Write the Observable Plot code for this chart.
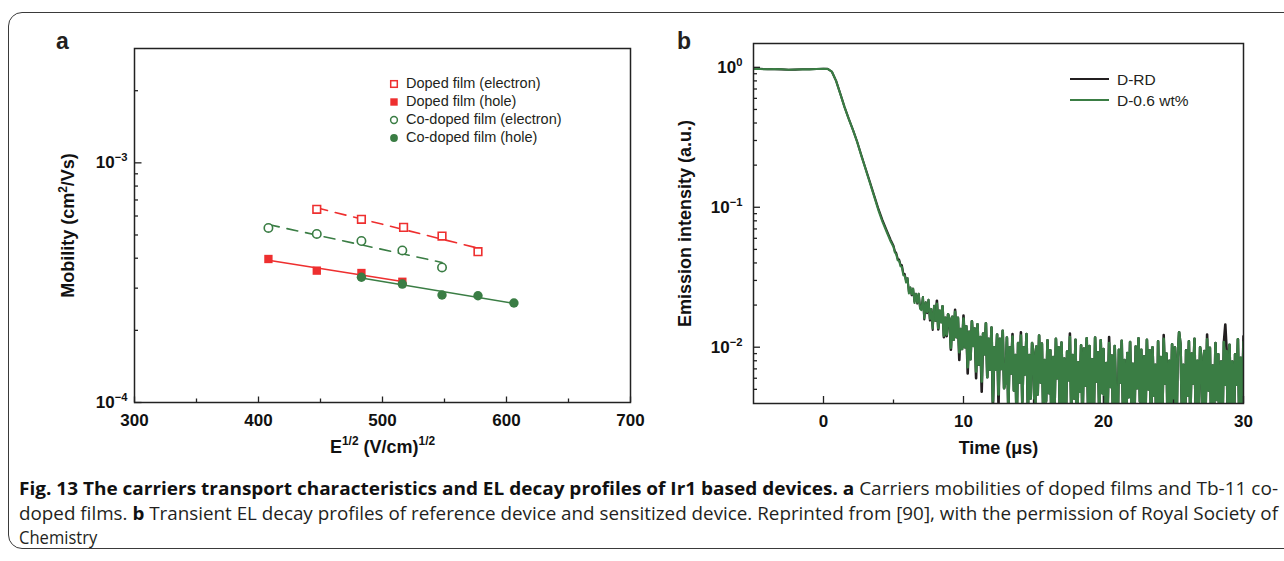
<!DOCTYPE html>
<html><head><meta charset="utf-8">
<script src="https://cdn.jsdelivr.net/npm/d3@7"></script>
<script src="https://cdn.jsdelivr.net/npm/@observablehq/plot@0.6"></script>
<style>
html,body{margin:0;padding:0;background:#fff;}
#root{position:relative;width:1284px;height:561px;overflow:hidden;font-family:"Liberation Sans",Arial,sans-serif;color:#231f20;}
.border{position:absolute;left:8px;top:12px;width:1320px;height:537px;border:1.3px solid #3a3a3a;border-radius:14px;box-sizing:border-box;}
.panel{position:absolute;top:0;}
.letter{position:absolute;font-weight:bold;font-size:23px;line-height:1;}
.legtext{position:absolute;line-height:1;white-space:nowrap;color:#231f20;}
.legmark{position:absolute;overflow:visible;}
.cap{position:absolute;left:19px;white-space:nowrap;font-family:"Open Sans",sans-serif;font-size:17.5px;line-height:1;transform-origin:0 50%;color:#231f20;}
.cap b{font-weight:700;color:#111;}
svg [aria-label="x-axis tick label"], svg [aria-label="y-axis tick label"]{font-size:17px;font-weight:bold;fill:#111;}
svg [aria-label="x-axis label"], svg [aria-label="y-axis label"]{font-size:18px;font-weight:bold;fill:#111;}
</style></head>
<body><div id="root"><div class="border"></div></div>
<script>
// ---------- Panel a data: carrier mobility vs E^1/2 ----------
const fieldDopedElectron = [447, 483, 517, 548, 577];
const mobilityDopedElectron = [6.40e-4, 5.81e-4, 5.38e-4, 4.95e-4, 4.26e-4];
const fieldDopedHole = [408, 447, 483, 516];
const mobilityDopedHole = [3.97e-4, 3.55e-4, 3.47e-4, 3.19e-4];
const fieldCoDopedElectron = [408, 447, 483, 516, 548];
const mobilityCoDopedElectron = [5.35e-4, 5.05e-4, 4.72e-4, 4.31e-4, 3.66e-4];
const fieldCoDopedHole = [483, 516, 548, 577, 606];
const mobilityCoDopedHole = [3.33e-4, 3.12e-4, 2.81e-4, 2.79e-4, 2.60e-4];
const legendA = ["Doped film (electron)", "Doped film (hole)", "Co-doped film (electron)", "Co-doped film (hole)"];
const xTicksA = [300, 400, 500, 600, 700];
const xMinorA = [350, 450, 550, 650];
const yTicksA = [1e-4, 1e-3];
const yTickLabelsA = ["10^{−4}", "10^{−3}"];
const yMinorA = [2e-4, 3e-4, 4e-4, 5e-4, 6e-4, 7e-4, 8e-4, 9e-4, 2e-3];

// ---------- Panel b data: transient EL decay ----------
const timeUs = [
-5,-4.5,-4,-3.5,-3,-2.5,-2,-1.5,-1,-0.5,0,0.3,
0.6,0.9,1.2,1.5,1.8,2.1,2.4,2.7,3.0,3.3,3.6,3.9,4.2,4.5,4.8,
5,5.1,5.2,5.3,5.4,5.5,5.6,5.7,5.8,5.9,
6,6.1,6.2,6.3,6.4,6.5,6.6,6.7,6.8,6.9,
7,7.1,7.2,7.3,7.4,7.5,7.6,7.7,7.8,7.9,
8,8.1,8.2,8.3,8.4,8.5,8.6,8.7,8.8,8.9,
9,9.1,9.2,9.3,9.4,9.5,9.6,9.7,9.8,9.9,
10,10.1,10.2,10.3,10.4,10.5,10.6,10.7,10.8,10.9,
11,11.1,11.2,11.3,11.4,11.5,11.6,11.7,11.8,11.9,
12,12.1,12.2,12.3,12.4,12.5,12.6,12.7,12.8,12.9,
13,13.1,13.2,13.3,13.4,13.5,13.6,13.7,13.8,13.9,
14,14.1,14.2,14.3,14.4,14.5,14.6,14.7,14.8,14.9,
15,15.1,15.2,15.3,15.4,15.5,15.6,15.7,15.8,15.9,
16,16.1,16.2,16.3,16.4,16.5,16.6,16.7,16.8,16.9,
17,17.1,17.2,17.3,17.4,17.5,17.6,17.7,17.8,17.9,
18,18.1,18.2,18.3,18.4,18.5,18.6,18.7,18.8,18.9,
19,19.1,19.2,19.3,19.4,19.5,19.6,19.7,19.8,19.9,
20,20.1,20.2,20.3,20.4,20.5,20.6,20.7,20.8,20.9,
21,21.1,21.2,21.3,21.4,21.5,21.6,21.7,21.8,21.9,
22,22.1,22.2,22.3,22.4,22.5,22.6,22.7,22.8,22.9,
23,23.1,23.2,23.3,23.4,23.5,23.6,23.7,23.8,23.9,
24,24.1,24.2,24.3,24.4,24.5,24.6,24.7,24.8,24.9,
25,25.1,25.2,25.3,25.4,25.5,25.6,25.7,25.8,25.9,
26,26.1,26.2,26.3,26.4,26.5,26.6,26.7,26.8,26.9,
27,27.1,27.2,27.3,27.4,27.5,27.6,27.7,27.8,27.9,
28,28.1,28.2,28.3,28.4,28.5,28.6,28.7,28.8,28.9,
29,29.1,29.2,29.3,29.4,29.5,29.6,29.7,29.8,29.9,30];

const intensityDRD = [
0.973,0.975,0.970,0.971,0.967,0.960,0.963,0.968,0.970,0.972,0.976,0.976,
0.93,0.80,0.648,0.522,0.430,0.359,0.295,0.236,0.190,0.153,0.123,0.0990,0.0815,0.0690,0.0585,
0.0531,0.0485,0.0470,0.0428,0.0424,0.0389,0.0385,0.0337,0.0334,0.0300,
0.0311,0.0250,0.0267,0.0235,0.0262,0.0212,0.0241,0.0205,0.0241,0.0192,
0.0190,0.0228,0.0158,0.0209,0.0175,0.0218,0.0155,0.0187,0.0133,0.0198,
0.0155,0.0215,0.0134,0.0182,0.0151,0.0196,0.0118,0.0162,0.0120,0.0172,
0.0159,0.0096,0.0165,0.0113,0.0185,0.0118,0.0162,0.0081,0.0135,0.0097,
0.0168,0.0100,0.0141,0.0065,0.0129,0.0082,0.0153,0.0102,0.0136,0.0060,
0.0146,0.0075,0.0118,0.0048,0.0125,0.0089,0.0148,0.0061,0.0115,0.0069,
0.0138,0.0035,0.0100,0.0069,0.0123,0.0038,0.0115,0.0070,0.0131,0.0051,
0.0057,0.0117,0.0036,0.0100,0.0065,0.0124,0.0049,0.0088,0.0028,0.0107,
0.0056,0.0128,0.0040,0.0100,0.0064,0.0124,0.0034,0.0088,0.0043,0.0107,
0.0091,0.0026,0.0101,0.0046,0.0121,0.0056,0.0106,0.0031,0.0081,0.0041,
0.0112,0.0047,0.0095,0.0020,0.0085,0.0035,0.0115,0.0060,0.0100,0.0025,
0.0108,0.0038,0.0083,0.0023,0.0093,0.0058,0.0125,0.0033,0.0088,0.0043,
0.0113,0.0018,0.0078,0.0048,0.0103,0.0028,0.0098,0.0053,0.0116,0.0036,
0.0102,0.0037,0.0082,0.0027,0.0117,0.0057,0.0092,0.0032,0.0112,0.0047,
0.0097,0.0017,0.0077,0.0037,0.0118,0.0052,0.0087,0.0022,0.0102,0.0042,
0.0021,0.0096,0.0056,0.0111,0.0031,0.0081,0.0016,0.0091,0.0044,0.0109,
0.0036,0.0076,0.0026,0.0101,0.0051,0.0116,0.0041,0.0096,0.0021,0.0086,
0.0033,0.0113,0.0050,0.0095,0.0025,0.0100,0.0045,0.0075,0.0015,0.0110,
0.0040,0.0085,0.0030,0.0122,0.0055,0.0090,0.0020,0.0080,0.0035,0.0105,
0.0040,0.0100,0.0020,0.0085,0.0128,0.0105,0.0035,0.0075,0.0015,0.0095,
0.0045,0.0110,0.0030,0.0090,0.0055,0.0115,0.0025,0.0080,0.0035,0.0100,
0.0084,0.0019,0.0094,0.0039,0.0123,0.0049,0.0099,0.0024,0.0074,0.0034,
0.0107,0.0042,0.0089,0.0014,0.0079,0.0029,0.0109,0.0145,0.0094,0.0019,
0.0104,0.0034,0.0079,0.0019,0.0089,0.0054,0.0114,0.0029,0.0084,0.0039,0.0120];

const intensityD06 = [
0.975,0.972,0.968,0.974,0.970,0.962,0.966,0.970,0.967,0.973,0.978,0.974,
0.93,0.80,0.645,0.519,0.428,0.357,0.293,0.234,0.188,0.151,0.121,0.0967,0.0794,0.0671,0.0569,
0.0521,0.0475,0.0460,0.0418,0.0414,0.0379,0.0375,0.0327,0.0324,0.0290,
0.0311,0.0242,0.0267,0.0239,0.0262,0.0207,0.0241,0.0208,0.0241,0.0188,
0.0184,0.0228,0.0161,0.0209,0.0178,0.0218,0.0159,0.0187,0.0136,0.0198,
0.0155,0.0204,0.0137,0.0182,0.0151,0.0196,0.0121,0.0162,0.0123,0.0172,
0.0159,0.0099,0.0165,0.0113,0.0179,0.0118,0.0162,0.0092,0.0135,0.0097,
0.0160,0.0100,0.0141,0.0072,0.0129,0.0082,0.0153,0.0102,0.0136,0.0067,
0.0146,0.0075,0.0118,0.0057,0.0125,0.0089,0.0148,0.0061,0.0115,0.0069,
0.0138,0.0041,0.0100,0.0069,0.0123,0.0046,0.0115,0.0070,0.0131,0.0051,
0.0057,0.0117,0.0036,0.0100,0.0065,0.0119,0.0049,0.0088,0.0028,0.0107,
0.0056,0.0121,0.0040,0.0100,0.0064,0.0124,0.0034,0.0088,0.0043,0.0107,
0.0091,0.0026,0.0101,0.0046,0.0121,0.0056,0.0106,0.0031,0.0081,0.0041,
0.0112,0.0047,0.0095,0.0020,0.0085,0.0035,0.0115,0.0060,0.0100,0.0025,
0.0108,0.0038,0.0083,0.0023,0.0093,0.0058,0.0118,0.0033,0.0088,0.0043,
0.0113,0.0018,0.0078,0.0048,0.0103,0.0028,0.0098,0.0053,0.0116,0.0036,
0.0102,0.0037,0.0082,0.0027,0.0117,0.0057,0.0092,0.0032,0.0112,0.0047,
0.0097,0.0017,0.0077,0.0037,0.0107,0.0052,0.0087,0.0022,0.0102,0.0042,
0.0021,0.0096,0.0056,0.0111,0.0031,0.0081,0.0016,0.0091,0.0044,0.0109,
0.0036,0.0076,0.0026,0.0101,0.0051,0.0116,0.0041,0.0096,0.0021,0.0086,
0.0033,0.0113,0.0050,0.0095,0.0025,0.0100,0.0045,0.0075,0.0015,0.0110,
0.0040,0.0085,0.0030,0.0115,0.0055,0.0090,0.0020,0.0080,0.0035,0.0105,
0.0040,0.0100,0.0020,0.0085,0.0128,0.0105,0.0035,0.0075,0.0015,0.0095,
0.0045,0.0110,0.0030,0.0090,0.0055,0.0115,0.0025,0.0080,0.0035,0.0100,
0.0084,0.0019,0.0094,0.0039,0.0114,0.0049,0.0099,0.0024,0.0074,0.0034,
0.0107,0.0042,0.0089,0.0014,0.0079,0.0029,0.0109,0.0054,0.0094,0.0019,
0.0104,0.0034,0.0079,0.0019,0.0089,0.0054,0.0114,0.0029,0.0084,0.0039,0.0109];

const legendB = ["D-RD", "D-0.6 wt%"];
const xTicksB = [0, 10, 20, 30];
const xMinorB = [5, 15, 25];
const yTicksB = [1, 0.1, 0.01];
const yTickLabelsB = ["10^{0}", "10^{−1}", "10^{−2}"];
const yMinorB = [0.005, 0.006, 0.007, 0.008, 0.009, 0.02, 0.03, 0.04, 0.05, 0.06, 0.07, 0.08, 0.09,
                 0.2, 0.3, 0.4, 0.5, 0.6, 0.7, 0.8, 0.9];

// ---------- styling ----------
const RED = "#ee2f2f", GREEN = "#3a7d44", BLACK = "#231f20", AXIS = "#222";
const ns = "http://www.w3.org/2000/svg";

const pts = (xs, ys) => xs.map((x, i) => ({x, y: ys[i]}));
function fitLog(xs, ys) {
  const ly = ys.map(Math.log10);
  const mx = d3.mean(xs), my = d3.mean(ly);
  const b = d3.sum(xs, (x, i) => (x - mx) * (ly[i] - my)) / d3.sum(xs, x => (x - mx) ** 2);
  return d3.extent(xs).map(x => ({x, y: 10 ** (my + b * (x - mx))}));
}
const tickX = (ticks, size) => Plot.axisX({ticks, tickSize: size, dy: -size, tickFormat: () => "", label: null, stroke: AXIS, strokeWidth: 1.3});
const tickY = (ticks, size) => Plot.axisY({ticks, tickSize: size, dx: size, tickFormat: () => "", label: null, stroke: AXIS, strokeWidth: 1.3});

const dE = pts(fieldDopedElectron, mobilityDopedElectron);
const dH = pts(fieldDopedHole, mobilityDopedHole);
const cE = pts(fieldCoDopedElectron, mobilityCoDopedElectron);
const cH = pts(fieldCoDopedHole, mobilityCoDopedHole);

const plotA = Plot.plot({
  width: 660, height: 460,
  marginLeft: 134, marginRight: 30, marginTop: 48, marginBottom: 58,
  style: {fontFamily: "Liberation Sans, Arial, sans-serif", fontSize: "17px", background: "transparent", overflow: "visible"},
  x: {domain: [300, 700]},
  y: {type: "log", domain: [1e-4, 3e-3]},
  marks: [
    Plot.line(fitLog(fieldDopedElectron, mobilityDopedElectron), {x: "x", y: "y", stroke: RED, strokeWidth: 1.6, strokeDasharray: "11,8"}),
    Plot.line(fitLog(fieldCoDopedElectron, mobilityCoDopedElectron), {x: "x", y: "y", stroke: GREEN, strokeWidth: 1.6, strokeDasharray: "11,8"}),
    Plot.line(fitLog(fieldDopedHole, mobilityDopedHole), {x: "x", y: "y", stroke: RED, strokeWidth: 1.6}),
    Plot.line(fitLog(fieldCoDopedHole, mobilityCoDopedHole), {x: "x", y: "y", stroke: GREEN, strokeWidth: 1.6}),
    Plot.dot(dE, {x: "x", y: "y", symbol: "square", r: 4.3, fill: "white", stroke: RED, strokeWidth: 1.6}),
    Plot.dot(cE, {x: "x", y: "y", symbol: "circle", r: 4.2, fill: "white", stroke: GREEN, strokeWidth: 1.6}),
    Plot.dot(dH, {x: "x", y: "y", symbol: "square", r: 4.7, fill: RED, stroke: null}),
    Plot.dot(cH, {x: "x", y: "y", symbol: "circle", r: 4.7, fill: GREEN, stroke: null}),
    Plot.frame({stroke: AXIS, strokeWidth: 1.5}),
    tickX(xTicksA, 5.5), tickX(xMinorA, 3.5),
    tickY(yTicksA, 7.5), tickY(yMinorA, 4),
    Plot.axisX({ticks: xTicksA, tickSize: 0, tickPadding: 11, tickFormat: d => String(d),
      label: "E^{1/2} (V/cm)^{1/2}", labelAnchor: "center", labelOffset: 50, labelArrow: "none"}),
    Plot.axisY({ticks: yTicksA, tickSize: 0, tickPadding: 7, tickFormat: d => yTickLabelsA[yTicksA.indexOf(d)],
      label: "Mobility (cm^{2}/Vs)", labelAnchor: "center", labelOffset: 73, labelArrow: "none"})
  ]
});

const drd = timeUs.map((t, i) => ({t, v: intensityDRD[i]}));
const d06 = timeUs.map((t, i) => ({t, v: intensityD06[i]}));
// the noisy tail is drawn with a heavier pen, as in the dense original trace
const early = d => d.t <= 8, late = d => d.t >= 8;

const plotB = Plot.plot({
  width: 624, height: 460,
  marginLeft: 93, marginRight: 41, marginTop: 43, marginBottom: 57,
  style: {fontFamily: "Liberation Sans, Arial, sans-serif", fontSize: "17px", background: "transparent", overflow: "visible"},
  x: {domain: [-5, 30]},
  y: {type: "log", domain: [0.00396, 1.48]},
  marks: [
    Plot.line(drd.filter(early), {x: "t", y: "v", stroke: BLACK, strokeWidth: 2.1, clip: true}),
    Plot.line(drd.filter(late), {x: "t", y: "v", stroke: BLACK, strokeWidth: 2.6, clip: true}),
    Plot.line(d06.filter(early), {x: "t", y: "v", stroke: GREEN, strokeWidth: 2.1, clip: true}),
    Plot.line(d06.filter(late), {x: "t", y: "v", stroke: GREEN, strokeWidth: 2.6, clip: true}),
    Plot.frame({stroke: AXIS, strokeWidth: 1.5}),
    tickX(xTicksB, 7), tickX(xMinorB, 3.5),
    tickY(yTicksB, 7), tickY(yMinorB, 4),
    Plot.axisX({ticks: xTicksB, tickSize: 0, tickPadding: 11, tickFormat: d => String(d),
      label: "Time (μs)", labelAnchor: "center", labelOffset: 50, labelArrow: "none"}),
    Plot.axisY({ticks: yTicksB, tickSize: 0, tickPadding: 11, tickFormat: d => yTickLabelsB[yTicksB.indexOf(d)],
      label: "Emission intensity (a.u.)", labelAnchor: "center", labelOffset: 75, labelArrow: "none"})
  ]
});

const root = document.getElementById("root");
function place(el, left) { el.classList.add("panel"); el.style.left = left + "px"; root.appendChild(el); }
place(plotA, 0);
place(plotB, 660);

function richify(svg) {
  svg.querySelectorAll("text").forEach(t => {
    const spans = [...t.querySelectorAll("tspan")];
    const holders = spans.length ? spans : [t];
    holders.forEach(el => {
      const s = el.textContent;
      if (!s.includes("^{")) return;
      const fs = parseFloat(getComputedStyle(el).fontSize) || 16;
      while (el.firstChild) el.removeChild(el.firstChild);
      let raised = false;
      s.split(/(\^\{[^}]*\})/).forEach(p => {
        if (!p) return;
        const ts = document.createElementNS(ns, "tspan");
        if (p.startsWith("^{")) {
          ts.textContent = p.slice(2, -1);
          ts.setAttribute("font-size", (fs * 0.66).toFixed(1));
          ts.setAttribute("dy", (-fs * 0.42).toFixed(1));
          raised = true;
        } else {
          ts.textContent = p;
          if (raised) ts.setAttribute("dy", (fs * 0.42).toFixed(1));
          raised = false;
        }
        el.appendChild(ts);
      });
    });
  });
}
richify(plotA); richify(plotB);

// panel letters
[["a", 56], ["b", 677]].forEach(([s, x]) => {
  const d = document.createElement("div");
  d.className = "letter"; d.textContent = s; d.style.left = x + "px"; d.style.top = "30px";
  root.appendChild(d);
});

// legend a
const legA = [
  {sym: "square", fill: "white", stroke: RED},
  {sym: "square", fill: RED, stroke: RED},
  {sym: "circle", fill: "white", stroke: GREEN},
  {sym: "circle", fill: GREEN, stroke: GREEN}
];
const legAy = [84, 102, 120, 138];
legendA.forEach((label, i) => {
  const yc = legAy[i], s = legA[i];
  const m = document.createElementNS(ns, "svg");
  m.setAttribute("class", "legmark"); m.setAttribute("width", 12); m.setAttribute("height", 12);
  m.style.left = (394 - 6) + "px"; m.style.top = (yc - 6) + "px";
  const open = s.fill === "white";
  let shape;
  if (s.sym === "square") {
    shape = document.createElementNS(ns, "rect");
    const side = open ? 6.6 : 7.4;
    shape.setAttribute("x", 6 - side / 2); shape.setAttribute("y", 6 - side / 2);
    shape.setAttribute("width", side); shape.setAttribute("height", side);
  } else {
    shape = document.createElementNS(ns, "circle");
    shape.setAttribute("cx", 6); shape.setAttribute("cy", 6); shape.setAttribute("r", open ? 3.4 : 3.9);
  }
  shape.setAttribute("fill", s.fill);
  shape.setAttribute("stroke", open ? s.stroke : "none");
  shape.setAttribute("stroke-width", 1.5);
  m.appendChild(shape); root.appendChild(m);
  const t = document.createElement("div");
  t.className = "legtext"; t.textContent = label;
  t.style.fontSize = "14.5px"; t.style.left = "406px"; t.style.top = (yc - 7.6) + "px";
  root.appendChild(t);
});

// legend b
const legBcolors = [BLACK, GREEN];
const legBy = [79, 100];
legendB.forEach((label, i) => {
  const m = document.createElementNS(ns, "svg");
  m.setAttribute("class", "legmark"); m.setAttribute("width", 40); m.setAttribute("height", 6);
  m.style.left = "1070px"; m.style.top = (legBy[i] - 3) + "px";
  const l = document.createElementNS(ns, "line");
  l.setAttribute("x1", 0); l.setAttribute("x2", 39); l.setAttribute("y1", 3); l.setAttribute("y2", 3);
  l.setAttribute("stroke", legBcolors[i]); l.setAttribute("stroke-width", 1.8);
  m.appendChild(l); root.appendChild(m);
  const t = document.createElement("div");
  t.className = "legtext"; t.textContent = label;
  t.style.fontSize = "15.5px"; t.style.left = "1117px"; t.style.top = (legBy[i] - 7.5) + "px";
  root.appendChild(t);
});

// caption: each full line fitted to the text block width; last line uses similar condensing
const captionLines = [
  {html: "<b>Fig. 13 The carriers transport characteristics and EL decay profiles of Ir1 based devices. a</b> Carriers mobilities of doped films and Tb-11 co-", top: 480, width: 1259},
  {html: "doped films. <b>b</b> Transient EL decay profiles of reference device and sensitized device. Reprinted from [90], with the permission of Royal Society of", top: 505, width: 1259},
  {html: "Chemistry", top: 529, width: 0}
];
let lastScale = 1;
captionLines.forEach(c => {
  const d = document.createElement("div");
  d.className = "cap"; d.innerHTML = c.html; d.style.top = c.top + "px";
  root.appendChild(d);
  const w = d.getBoundingClientRect().width;
  const k = c.width ? c.width / w : lastScale * 0.88;
  if (c.width) lastScale = k;
  d.style.transform = `scaleX(${k})`;
});
</script></body></html>
